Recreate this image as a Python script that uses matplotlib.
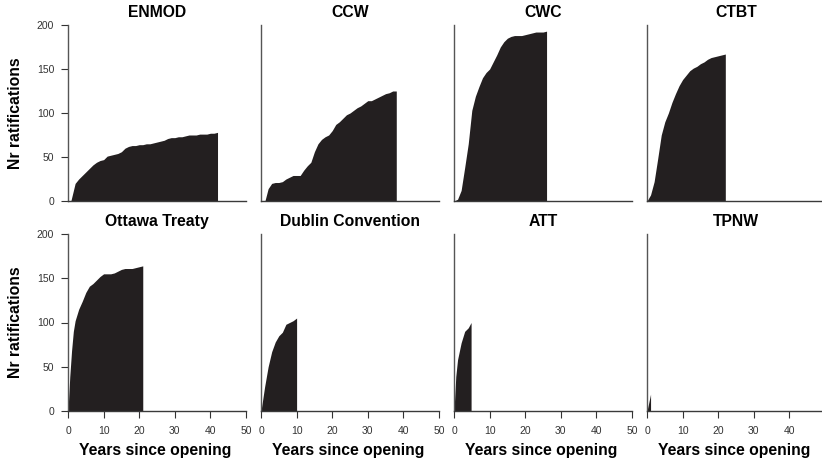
import matplotlib
matplotlib.use("Agg")
import matplotlib.pyplot as plt

plt.rcParams['font.family'] = ['Liberation Sans', 'DejaVu Sans']

treaties = ["ENMOD", "CCW", "CWC", "CTBT",
            "Ottawa Treaty", "Dublin Convention", "ATT", "TPNW"]

# years since opening / cumulative ratifications
enmod_years = [0.8, 2, 3, 4, 5, 6, 7, 8, 9, 10, 11, 12, 13, 14, 15, 16, 17, 18, 19, 20,
               21, 22, 23, 24, 25, 26, 27, 28, 29, 30, 31, 32, 33, 34, 35, 36, 37, 38,
               39, 40, 41, 42]
enmod_vals = [0, 20, 25, 29, 33, 37, 41, 44, 46, 47, 51, 52, 53, 54, 56, 60, 62, 63, 63, 64,
              64, 65, 65, 66, 67, 68, 69, 71, 72, 72, 73, 73, 74, 75, 75, 75, 76, 76,
              76, 77, 77, 78]

ccw_years = [1.1, 2, 3, 4, 5, 6, 7, 8, 9, 10, 11, 12, 13, 14, 15, 16, 17, 18, 19, 20,
             21, 22, 23, 24, 25, 26, 27, 28, 29, 30, 31, 32, 33, 34, 35, 36, 37, 38]
ccw_vals = [0, 14, 20, 21, 21, 22, 25, 27, 29, 29, 29, 35, 40, 44, 56, 65, 70, 73, 75, 80,
            87, 90, 94, 98, 100, 103, 106, 108, 111, 114, 114, 116, 118, 120, 122, 123, 125, 125]

cwc_years = [0, 1, 2, 3, 4, 5, 6, 7, 8, 9, 10, 11, 12, 13, 14, 15, 16, 17, 18, 19, 20,
             21, 22, 23, 24, 25, 26]
cwc_vals = [0, 2, 12, 38, 65, 103, 119, 130, 140, 146, 150, 158, 166, 175, 181, 185, 187, 188,
            188, 188, 189, 190, 191, 192, 192, 192, 193]

ctbt_years = [0, 1, 2, 3, 4, 5, 6, 7, 8, 9, 10, 11, 12, 13, 14, 15, 16, 17, 18, 19, 20, 21, 22]
ctbt_vals = [0, 7, 22, 48, 75, 90, 100, 112, 122, 131, 138, 143, 148, 151, 153, 156, 158, 161,
             163, 164, 165, 166, 167]

ottawa_years = [0, 0.5, 1, 1.5, 2, 3, 4, 5, 6, 7, 8, 9, 10, 11, 12, 13, 14, 15, 16, 17, 18,
                19, 20, 21]
ottawa_vals = [0, 39, 68, 90, 102, 115, 124, 134, 141, 144, 148, 152, 155, 155, 155, 156, 158,
               160, 161, 161, 161, 162, 163, 164]

dublin_years = [0, 1, 2, 3, 4, 5, 6, 7, 8, 9, 10]
dublin_vals = [0, 27, 50, 67, 78, 85, 89, 98, 100, 102, 105]

att_years = [0, 0.5, 1, 2, 3, 4, 4.8]
att_vals = [0, 39, 58, 77, 90, 94, 100]

tpnw_years = [0, 1]
tpnw_vals = [0, 19]

series = [(enmod_years, enmod_vals), (ccw_years, ccw_vals), (cwc_years, cwc_vals),
          (ctbt_years, ctbt_vals), (ottawa_years, ottawa_vals), (dublin_years, dublin_vals),
          (att_years, att_vals), (tpnw_years, tpnw_vals)]

W, H = 822, 470
fig = plt.figure(figsize=(W / 100, H / 100), dpi=100)

lefts = [68, 261, 454, 647]
rows = [(25, 201), (234, 411)]
axw = 178
fill_col = '#231f20'
line_col = '#3a3a3a'

for i, (name, (xs, ys)) in enumerate(zip(treaties, series)):
    r, c = divmod(i, 4)
    top, bot = rows[r]
    ax = fig.add_axes([lefts[c] / W, 1 - bot / H, axw / W, (bot - top) / H])
    ax.fill_between(xs, ys, 0, color=fill_col, lw=0)
    ax.set_xlim(0, 50)
    ax.set_ylim(0, 200)
    for s in ['top', 'right']:
        ax.spines[s].set_visible(False)
    ax.spines['left'].set_color('#555555')
    ax.spines['bottom'].set_color(line_col)
    ax.spines['left'].set_linewidth(1.0)
    ax.spines['bottom'].set_linewidth(1.0)
    ax.set_title(name, fontsize=11.3, fontweight='bold', pad=6)
    ax.tick_params(labelsize=7.5, colors='#333333', length=5, width=0.8, pad=5)
    ax.set_xticks([0, 10, 20, 30, 40] if c == 3 else [0, 10, 20, 30, 40, 50])
    ax.set_yticks([0, 50, 100, 150, 200])
    if r == 0:
        ax.tick_params(axis='x', bottom=False, labelbottom=False)
    else:
        ax.tick_params(axis='x', pad=6)
        fig.text((lefts[c] + axw / 2 - 2) / W, 1 - 450 / H, "Years since opening",
                 fontsize=11.3, fontweight='bold', ha='center', va='center')
    if c == 0:
        fig.text(16 / W, 1 - (top + bot) / 2 / H, "Nr ratifications", rotation=90,
                 fontsize=11.3, fontweight='bold', ha='center', va='center')
    else:
        ax.tick_params(axis='y', left=False, labelleft=False)

fig.savefig("out.png", dpi=100)
